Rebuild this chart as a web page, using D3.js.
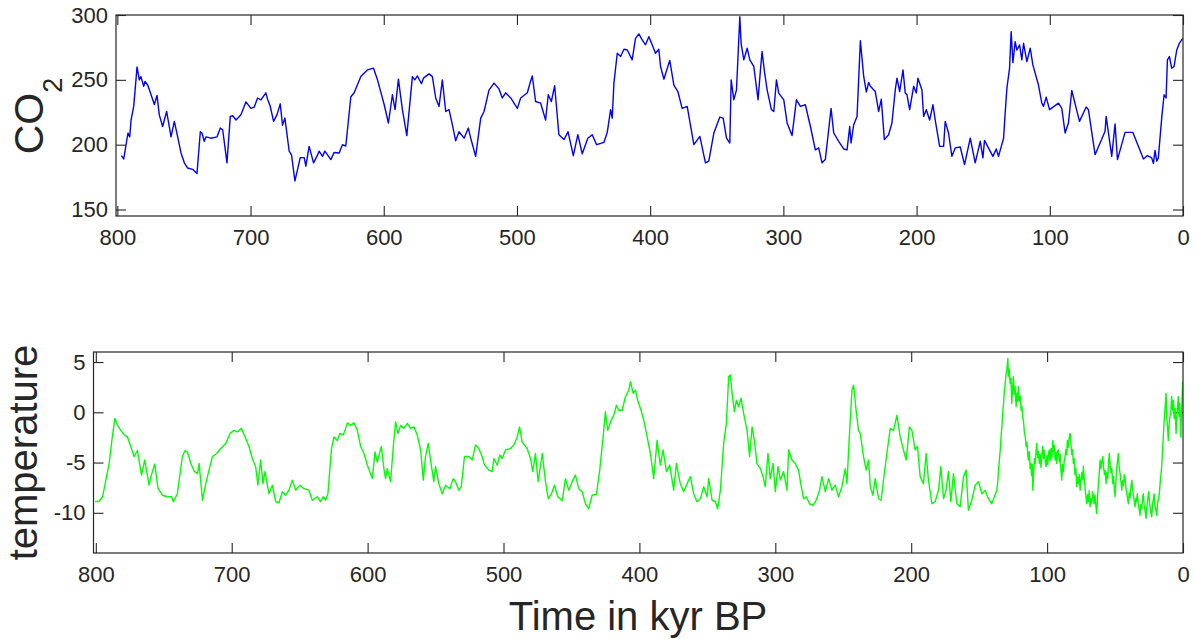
<!DOCTYPE html>
<html>
<head>
<meta charset="utf-8">
<script src="https://cdn.jsdelivr.net/npm/d3@7"></script>
<style>
  body { margin: 0; background: #fff; }
  svg { display: block; font-family: "Liberation Sans", Arial, Helvetica, sans-serif; }
</style>
</head>
<body>
<div id="chart"></div>
<script>
// CO2 record (kyr BP, ppmv)
const co2Age = [797,795.2,792,790.7,789.7,787.7,785.2,783.5,782.3,780.2,779.2,777.2,775.2,772.2,770.2,768.5,766,763,761,759.7,757.2,754.7,752.2,749.7,747.2,743.5,740.2,737.7,736.5,734.7,733.5,729.7,725.2,722.7,720.9,717.7,715.2,713.4,710.9,707.2,703.5,699.7,697.2,694.7,692.2,688.5,687.2,685.3,682.7,680.2,677.7,676,674.2,671,669.2,666.7,664.7,662.7,659.7,658.5,656,652.7,650.2,648.5,646,644.2,639.7,637.3,633.5,631,628.5,624.7,622.2,617.2,612.2,607.7,604.7,599.7,596.5,593.5,591.5,589,586,582.7,578.5,576.7,574.7,571.7,570.2,566,563.5,561,558.5,556,553.5,551,548.5,546,543.5,539.7,536.5,534.7,531,527.2,524.7,521,517.2,513.5,511,508.5,504.7,499.7,497.2,492.2,490.2,488.5,486,482.2,478.5,476.5,474.2,471.7,468.5,464.7,461.7,457.7,454.3,451,446.8,443.5,440.2,434.7,432.2,429.7,428.5,427.2,424.7,422.2,419.7,417.2,413.5,411,408.5,406,403.5,401,398.5,396,393.5,392.2,389.7,385.3,382.2,379.2,376,372.2,367.2,362.7,358.5,356,352.2,347.7,345.2,342.7,340.2,339.2,337.2,335.2,332.7,331.7,329.7,327.2,325.2,322.2,319,317.2,316,314.2,312.2,309,307.2,305.2,303.5,299.7,297.2,293.5,290.2,287.2,283.5,279.7,276,273.5,271,268.5,266,264.2,262.2,258.5,254.7,252.2,250.2,249.2,247.2,244.7,242.2,239.7,237.7,236,234.7,231,228.5,226.5,224.2,221,218.5,216,214.7,212.7,210.2,208.5,207.2,205.2,202.2,200.2,199,196,194.7,192.7,190.2,187.7,186,182.7,179.7,178.5,176,173.5,171,167.2,164,159.7,156,152.2,150.2,149,142.7,140.2,138.5,134.7,133.5,132.2,130.2,129,127.7,126,124.7,122.7,121,119.7,117.2,114.7,112.7,108.5,106,104.7,102.7,100.2,93.5,91,88.5,86,83.5,77.7,72.7,71,66,58.5,57.7,53.5,51,49.2,43.5,37.7,29.7,26.7,23.5,22.2,21,19.7,18.5,16,14.2,12.7,11.7,10.2,8.5,6.7,4.7,2.7,1,0.2];
const co2Val = [191.6,189,209,206,219,229.5,260,250,252.5,245,248.7,246,240,231,238,223,214,225.6,214,206,218,206,193.6,186,182,181,177.7,210,209,202.6,206,205,206,212.8,211.5,186,221.8,222.3,219,223,233,228,229,236,234.6,240,235,230,218,223,231.5,215,220.5,195,192,172,181,190,190,183.4,198.7,186,191,195,191,195,188.5,194,193.6,200,199,237,240,252.5,257.7,259,250,231,216.7,238.5,227,250.5,227,207,252.5,250,253,247,251.3,254.6,252.5,236,229.5,250,225.6,227,215.4,203,210,205,212.8,205,191,220.5,225.6,242,247.5,243,236,240,236,228,236,240,247.5,253,233.3,232,219,238.5,233.3,245.4,207.7,203.9,210,191.5,207.7,193,205,207.7,200,201.8,209.5,227,220.5,247.5,270.5,268,273.6,273,265.4,282,285.4,280.8,277,283.3,277,270.5,273.6,260.3,250.5,265,246,241,228,229.5,200,206.4,186,187.3,209,221.3,220.5,205,201.3,250,234.6,242.3,298.7,278,265.4,274.4,265.4,260.3,234.6,257.7,271.8,256.4,242.3,227,225.6,250,239.8,234.6,216.7,207,234.6,229.5,230.8,214,196,197.5,186,188.5,211.5,228,209,202.6,196.7,196,214,201.3,215.4,221.8,280.2,252.6,240.5,248,245,241,225.6,235,203.9,207.7,216.7,242.3,251.3,241,257.7,239.8,238.5,227,245,239.8,251.3,242.3,221.8,227,219,230.8,219,198.7,198.7,218,209,191,197.5,198.2,184.6,205,186,202.6,189.8,203.3,191,196.7,191,205,224.3,243.6,259,287.2,263.3,279.5,273,276.9,265.4,278.2,264,274.4,261.5,246,232,229.5,236.7,227,232,228,209,216.7,241.8,218,229,227,192.3,210.3,221.8,191,216,188.5,209.5,209.5,189,191.6,189.8,185.4,195.6,187.3,189.8,220.5,238.5,236,265.4,268,259,260.3,273,278.2,280.8,282];

// temperature anomaly record (kyr BP, deg C)
const tempAge = [800.5,797.6,795,792.6,790.2,788.2,786,784,781.6,778.7,776.7,774.3,771.8,769.4,766.4,764,760.8,759.1,756.6,754.2,751,747.3,744.3,742.9,740,736.3,734.3,732.6,730.1,727.7,725.2,724,721.5,719.1,716.7,714.2,711,708.1,704.4,701.2,698.3,695.8,692.9,689.7,687.3,684.8,682.4,680.7,678.7,677,675.5,672.6,670.1,667.6,665.2,662.7,660.3,657.9,655.4,652.9,649.8,646.8,643.2,640.7,637,634.6,632.6,630.9,629.2,626.7,624.8,622.3,620.4,617.9,616.2,614.9,612.5,610.1,607.6,605.1,602.7,600.2,596.5,594.6,592.9,589.9,588,586.8,585.5,583.1,581.1,579.4,577.7,575.7,573.3,570.8,568.4,565.9,563.5,561,559,557.4,555.4,553.7,551.3,550,547.6,545.1,542.6,539.5,537,535.3,532.9,531.1,528.7,525.5,523,520.6,518.2,515.7,514,510.8,508.3,507.1,504.6,502.7,501,498.5,494.9,492.4,489.9,488.2,486.3,482.6,480.1,478.5,476.5,474.5,471.5,469.1,467.1,464.7,462.5,460.1,456.8,454.4,452,449.5,447.1,444.6,442.1,439.7,437.3,434.8,431.6,429.2,426.7,425,423.3,420.8,418.9,416.9,415.2,412.7,410.3,407.8,406.6,404.6,402.9,401.3,398.8,396.8,394.3,391.9,389.5,387,384.6,382.6,380.1,377.7,374.8,372.8,369.9,367.4,364.9,362.5,360.1,357.6,355.1,352.7,350.2,349,346.5,344.1,342.4,340.4,338,336,334.3,333.1,331.8,330.1,328.7,327,325.2,323.3,320.8,318.9,317.1,315.4,313.5,311,309,307.4,305.4,303.7,301.7,300,298,296.3,293.9,291.4,290.2,287.7,285.3,282.9,281.1,279.2,277.2,274.8,272.3,269.9,267.4,265.7,263.2,260.8,258.3,255.9,253.5,251,248.5,247.3,245.4,243.6,242.4,240.7,238.8,237.5,235.1,233.1,231.4,230.1,228.2,226.5,224,222.1,220.4,217.9,215.4,213,210.5,208.1,205.7,203.7,201.3,199.5,197.1,195.4,193.4,191,189,187.3,184.8,182.4,179.9,178.2,176.2,174.3,172.6,170.8,168.9,166.4,164,161.5,159.6,157.9,155.4,152.9,150.5,148,145.6,143.2,140.7,138.8,
  137,136.3,135.6,135.1,134.4,133.8,133.3,132.7,132,131.4,130.8,130.2,129.6,128.9,128.4,127.9,127.2,126.6,126,125.4,124.8,124.2,123.6,122.8,122.2,121.6,121.1,120.5,119.8,119.1,118.5,117.9,117.4,116.8,116.1,115.4,114.8,114.2,113.7,113.1,112.5,112,111.4,110.9,110.5,109.9,109.3,108.8,108.2,107.6,107,106.4,105.7,105.1,104.5,103.8,103.2,102.6,102,101.3,100.7,100.1,99.5,98.9,98.3,97.7,97.1,96.4,95.8,95.2,94.6,94.1,93.5,92.9,92.3,91.7,91,90.4,89.8,89.2,88.6,88,87.4,86.8,86.2,85.6,85.1,84.5,83.8,83.1,82.5,81.9,81.3,80.7,80.1,79.5,78.8,78.2,77.6,77,76.4,75.7,75.1,74.5,73.9,73.3,72.7,72.1,71.5,70.8,70.2,69.6,69,68.4,67.8,67.2,66.6,66,65.4,64.8,64.1,63.5,62.9,62.3,61.6,61,60.4,59.7,59,58.4,57.8,57.2,56.6,56,55.4,54.8,54.2,53.6,53,52.4,51.7,51.1,50.5,50,49.4,48.8,48.2,47.6,47,46.4,45.7,45.1,44.5,43.8,43.2,42.6,42,41.4,40.8,40.2,39.6,38.9,38.3,37.7,37.1,36.5,35.9,35.3,34.7,34.2,33.6,33,32.3,31.6,31,30.4,29.8,29.2,28.6,27.9,27.2,26.6,25.9,25.2,24.6,24,23.5,23,22.4,21.8,21.3,20.7,20,19.3,18.7,18,17.4,16.8,16.2,15.7,15.1,14.5,13.9,13.2,12.5,11.9,11.3,10.8,10.2,9.6,9,8.4,7.7,7.1,6.5,5.8,5.1,4.5,4,3.5,2.9,2.3,1.7,1.2,0.7,0.2];
const tempVal = [-8.9,-8.85,-8.4,-6.75,-5.1,-2.8,-0.6,-1.3,-1.8,-2.3,-2.45,-3.4,-4.4,-3.8,-6.25,-4.75,-7.25,-6.25,-5.15,-7.6,-8.25,-8.4,-8.4,-8.9,-8.1,-4.4,-3.8,-3.95,-5.1,-5.85,-6.1,-5.1,-8.75,-7.1,-5.75,-4.4,-4.1,-3.6,-3.1,-2.1,-1.8,-1.95,-1.6,-2.6,-3.4,-4.6,-5.4,-7.25,-4.75,-7.1,-5.9,-8.1,-7.25,-8.9,-9,-7.9,-8.25,-7.75,-6.75,-7.75,-7.25,-7.6,-7.75,-8.75,-8.4,-8.9,-8.4,-8.75,-8.1,-3.75,-2.45,-2.8,-2.1,-2.25,-1.6,-1.05,-1.3,-1.05,-1.8,-3.4,-4.1,-5.25,-6.6,-3.95,-4.95,-3.4,-5.6,-6.6,-5.6,-6.9,-3.4,-0.95,-2.1,-1.3,-1.6,-1.1,-1.6,-1.45,-2.25,-3.75,-6.75,-4.4,-3.1,-4.75,-6.9,-5.4,-7.1,-8.1,-7.25,-7.6,-6.6,-6.9,-7.75,-7.4,-4.4,-4.4,-4.75,-3.25,-3.6,-4.4,-5.25,-5.75,-5.9,-4.6,-5.25,-4.25,-4.6,-3.75,-3.6,-3.25,-2.45,-1.45,-2.95,-3.6,-4.6,-5.9,-4.1,-6.9,-4.1,-6.9,-8.6,-8.1,-7.25,-8.4,-8.8,-6.6,-7.75,-6.9,-6.25,-7.6,-7.9,-9.1,-9.6,-8.25,-8.15,-5.75,-2.45,0.05,-1.8,-0.8,-0.3,0.7,0.2,0.2,1.55,2.2,3.05,1.9,2.2,1.2,0.2,-0.8,-2.45,-4.1,-6.6,-2.8,-5.25,-3.75,-5.9,-5.25,-7.75,-5.1,-7.1,-7.9,-7.1,-6.4,-8.1,-8.9,-8.6,-7.4,-8.4,-6.6,-8.75,-8.9,-9.6,-7.75,-3.1,-1.1,3.55,3.7,1.9,0.05,1.2,0.55,1.4,-0.1,-1.8,-4.4,-1.45,-2.8,-5.1,-5.6,-6.4,-7.4,-4.1,-6.6,-5.1,-7.9,-5.4,-6.75,-5.9,-7.75,-3.75,-4.75,-5.1,-5.75,-7.25,-8.6,-8.4,-9.1,-9.25,-8.75,-7.75,-6.4,-7.9,-6.6,-7.75,-7.25,-8.4,-7.4,-5.6,-7.1,-2.1,2.2,2.7,0.4,-1.8,-2.1,-4.4,-5.75,-4.75,-7.4,-8.25,-6.6,-8.6,-8.75,-6.75,-4.1,-1.6,-1.8,-0.3,-2.45,-3.75,-4.75,-1.45,-1.8,-3.75,-3.4,-6.4,-7.1,-4.1,-6.75,-9.1,-8.9,-7.75,-5.4,-8.6,-7.75,-5.9,-8.9,-6.1,-9.1,-9.4,-6.4,-5.75,-9.75,-8.75,-7.25,-6.9,-8.1,-7.75,-8.6,-9.1,-8.4,
  -7.75,-6.9,-5.5,-4.75,-3.6,-2.3,-1.45,-0.2,1,2.2,2.9,3.8,4.2,5.35,3.6,4.3,2.85,3.4,0.9,2.4,3.55,1.8,2.6,0.55,1.9,1.1,2.55,1.2,1.6,0.2,0.6,-0.6,-0.8,-1.9,-2.4,-3.4,-3,-4.3,-4.75,-3.9,-5.6,-5.1,-6.3,-5.2,-7.75,-6,-4.6,-5.1,-4,-3.1,-4.5,-3.9,-5.1,-4.2,-5.5,-4.1,-3.4,-4.6,-3.8,-5,-5.4,-4.3,-5.2,-4,-3.75,-4.8,-3.6,-4.5,-2.8,-3.9,-3.3,-4.75,-4,-5.1,-3.9,-3.75,-4.9,-4.2,-5.8,-6.75,-5.2,-5.9,-4.8,-4.4,-3.7,-4.2,-2.8,-3.5,-2.6,-2.1,-3,-4.2,-3.7,-5.1,-4.6,-6.2,-5.6,-7.4,-6.5,-7.1,-6.2,-7.75,-6.8,-6,-6.7,-5.4,-6.6,-7.4,-8.3,-9.1,-8.2,-8.9,-7.8,-9.4,-8.6,-9,-7.9,-8.4,-9.1,-8.2,-9.3,-10.05,-8.5,-7.2,-6,-4.75,-5.6,-5,-4.4,-5.5,-6.2,-5.8,-7.1,-6,-6.6,-5,-4.1,-5.3,-6,-5.6,-7.1,-6.4,-7.6,-8.4,-7,-5.6,-4.9,-4.1,-5.4,-6,-6.8,-7.75,-6.8,-7.3,-6.2,-6.6,-7.5,-8,-8.6,-9.1,-8,-8.5,-7.4,-6.75,-7.6,-8.3,-8.8,-9.4,-8.6,-8.9,-8.1,-9,-9.6,-10.25,-9.2,-9.6,-8.6,-8.1,-9.3,-9.8,-10.55,-9.4,-8.6,-7.9,-9,-9.6,-10.1,-10.4,-9.2,-8.6,-8.1,-9.2,-9.7,-10.25,-9,-8.6,-8.1,-7,-6.2,-5.4,-4,-2.45,-0.9,0.4,1.9,-0.6,-1.6,-2.8,-1.2,-0.4,-0.1,1.6,0.2,1.2,-0.6,0.4,-2.1,-0.5,0.6,1.55,-0.4,0.9,-2.45,-0.4,1.2,3.05];

const xTicks = [800, 700, 600, 500, 400, 300, 200, 100, 0];
const co2Ticks = [150, 200, 250, 300];
const tempTicks = [-10, -5, 0, 5];

const axisColor = "#262626";

const svg = d3.select("#chart")
  .append("svg")
  .attr("width", 1195)
  .attr("height", 639);

function drawPanel(p) {
  const x = d3.scaleLinear().domain(p.xDomain).range([p.left, p.right]);
  const y = d3.scaleLinear().domain(p.yDomain).range([p.bottom, p.top]);
  const w = p.right - p.left, h = p.bottom - p.top;

  const g = svg.append("g");

  svg.append("clipPath").attr("id", p.id)
    .append("rect")
    .attr("x", p.left).attr("y", p.top)
    .attr("width", w).attr("height", h);

  const fmt = d => String(d);

  const styleAxis = sel => {
    sel.select(".domain").remove();
    sel.selectAll(".tick line").attr("stroke", axisColor).attr("stroke-width", 1.1);
    sel.selectAll(".tick text").attr("fill", axisColor).style("font-size", "22px");
  };

  g.append("g")
    .attr("transform", `translate(0,${p.bottom})`)
    .call(d3.axisBottom(x).tickValues(xTicks).tickFormat(fmt).tickSize(-10).tickSizeOuter(0).tickPadding(13))
    .call(styleAxis);

  g.append("g")
    .attr("transform", `translate(0,${p.top})`)
    .call(d3.axisTop(x).tickValues(xTicks).tickFormat("").tickSize(-10).tickSizeOuter(0))
    .call(styleAxis);

  g.append("g")
    .attr("transform", `translate(${p.left},0)`)
    .call(d3.axisLeft(y).tickValues(p.yTicks).tickFormat(fmt).tickSize(-10).tickSizeOuter(0).tickPadding(8))
    .call(styleAxis);

  g.append("g")
    .attr("transform", `translate(${p.right},0)`)
    .call(d3.axisRight(y).tickValues(p.yTicks).tickFormat("").tickSize(-10).tickSizeOuter(0))
    .call(styleAxis);

  const line = d3.line()
    .x((d, i) => x(p.ages[i]))
    .y(d => y(d));

  g.append("path")
    .datum(p.vals)
    .attr("clip-path", `url(#${p.id})`)
    .attr("fill", "none")
    .attr("stroke", p.color)
    .attr("stroke-width", 1.4)
    .attr("stroke-linejoin", "round")
    .attr("d", line);

  g.append("rect")
    .attr("x", p.left).attr("y", p.top)
    .attr("width", w).attr("height", h)
    .attr("fill", "none")
    .attr("stroke", axisColor)
    .attr("stroke-width", 1.2);
}

drawPanel({
  id: "clipTop", left: 116, right: 1183, top: 15, bottom: 216,
  xDomain: [801, 0], yDomain: [145, 300], yTicks: co2Ticks,
  ages: co2Age, vals: co2Val, color: "#0000ff"
});

drawPanel({
  id: "clipBottom", left: 93.5, right: 1183, top: 352, bottom: 553,
  xDomain: [801.7, 0], yDomain: [-14, 6], yTicks: tempTicks,
  ages: tempAge, vals: tempVal, color: "#00ff00"
});

// y labels
const co2Label = svg.append("text")
  .attr("transform", "translate(43,116) rotate(-90)")
  .attr("text-anchor", "middle")
  .attr("fill", axisColor)
  .style("font-size", "41px");
co2Label.append("tspan").text("CO");
co2Label.append("tspan").attr("dy", 19).style("font-size", "27px").text("2");

svg.append("text")
  .attr("transform", "translate(37,452.5) rotate(-90)")
  .attr("text-anchor", "middle")
  .attr("fill", axisColor)
  .style("font-size", "40px")
  .text("temperature");

svg.append("text")
  .attr("x", 638)
  .attr("y", 630)
  .attr("text-anchor", "middle")
  .attr("fill", axisColor)
  .style("font-size", "40px")
  .text("Time in kyr BP");
</script>
</body>
</html>
